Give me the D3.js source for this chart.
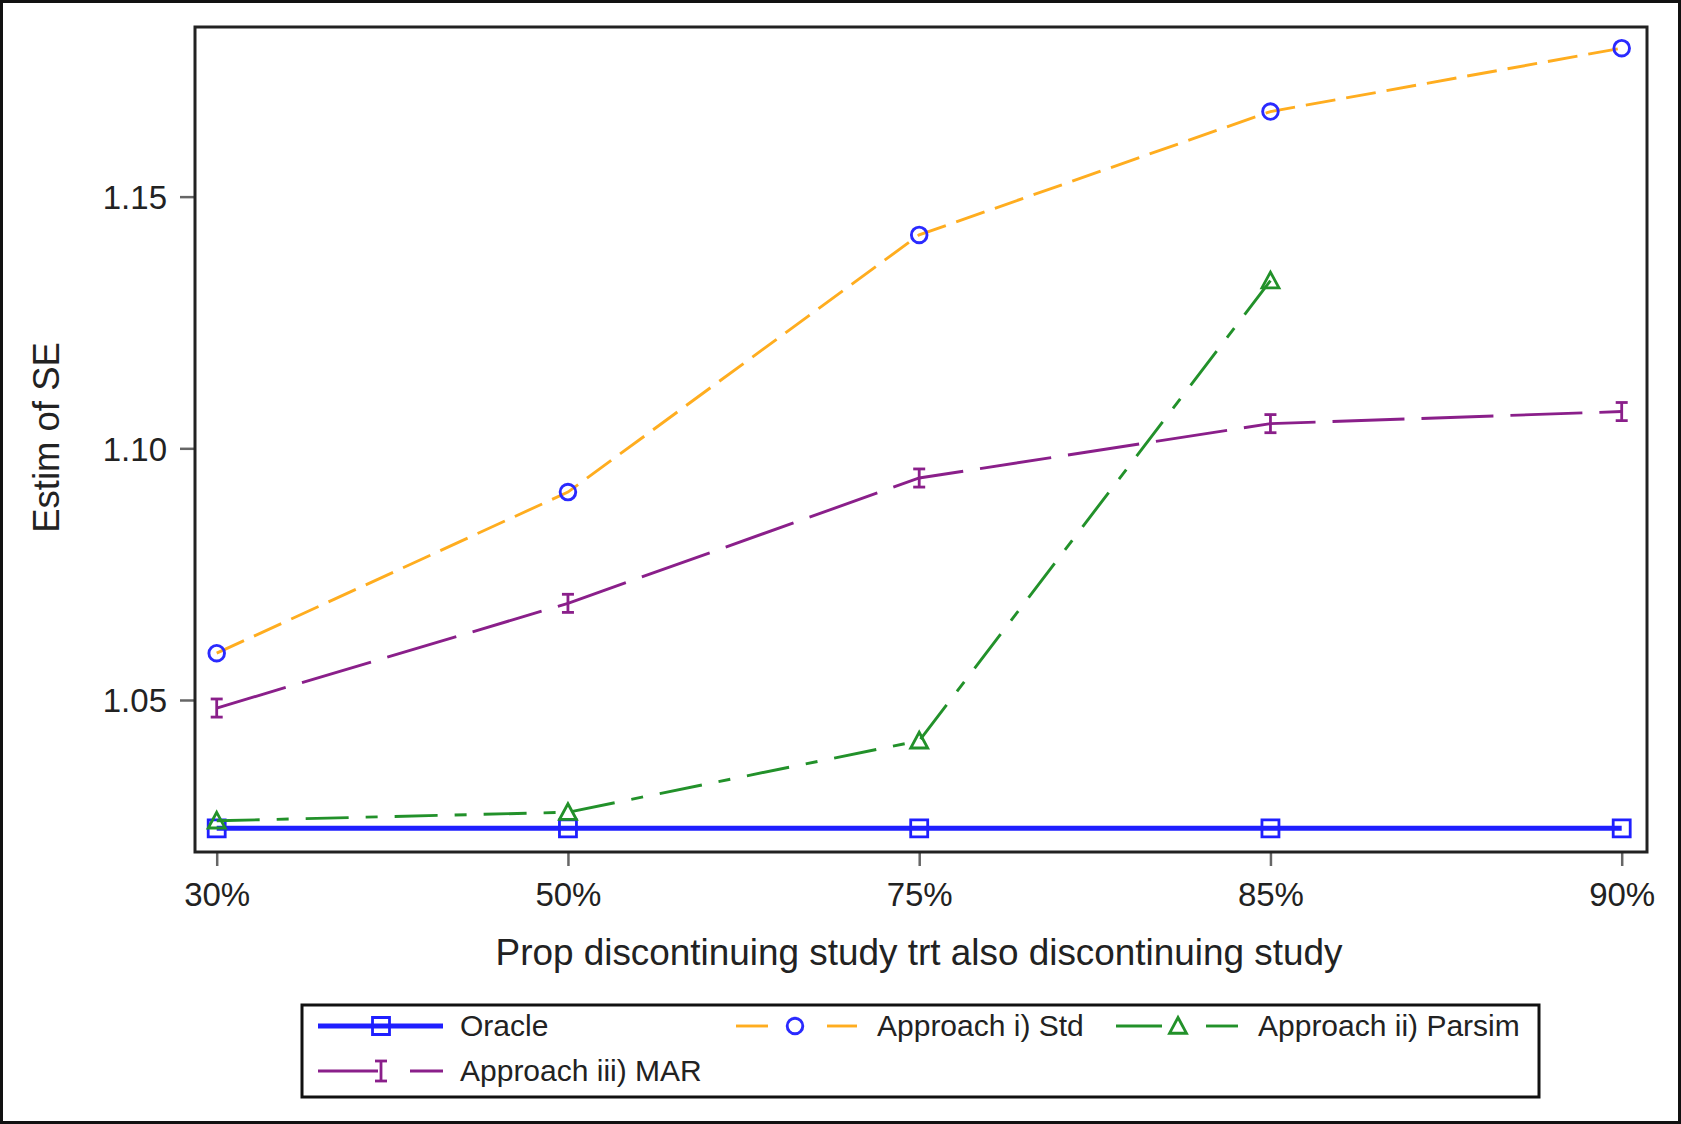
<!DOCTYPE html>
<html>
<head>
<meta charset="utf-8">
<script src="https://cdn.jsdelivr.net/npm/d3@7"></script>
<style>
  html, body { margin: 0; padding: 0; background: #fff; }
  svg { display: block; }
  text { font-family: "Liberation Sans", Arial, sans-serif; fill: #222; }
</style>
</head>
<body>
<svg id="chart" width="1681" height="1124"></svg>
<script>
// Categories on the x axis
const categories = ["30%", "50%", "75%", "85%", "90%"];

// Estimated SE for each approach (null = not estimated)
const oracle = [1.0245, 1.0245, 1.0245, 1.0245, 1.0245];
const approachStd = [1.0593, 1.0913, 1.1424, 1.1669, 1.1795];
const approachParsim = [1.0260, 1.0277, 1.0419, 1.1333, null];
const approachMar = [1.0484, 1.0692, 1.0941, 1.1049, 1.1073];
const approachMarLower = [1.0466, 1.0674, 1.0923, 1.1031, 1.1055];
const approachMarUpper = [1.0502, 1.0710, 1.0959, 1.1067, 1.1091];

const yTicks = [1.05, 1.10, 1.15];
const yDomain = [1.0198, 1.1837];

const xTitle = "Prop discontinuing study trt also discontinuing study";
const yTitle = "Estim of SE";
const legendLabels = ["Oracle", "Approach i) Std", "Approach ii) Parsim", "Approach iii) MAR"];

// Layout
const W = 1681, H = 1124;
const plot = { left: 195, top: 27, right: 1647, bottom: 852 };

const colors = {
  oracle: "#1f1fff",
  std: "#ffad1f",
  parsim: "#22912a",
  mar: "#8a1f8a",
  markerStd: "#2a2aff"
};

const svg = d3.select("#chart");

// Outer border
svg.append("rect")
  .attr("x", 1.5).attr("y", 1.5)
  .attr("width", W - 3).attr("height", H - 3)
  .attr("fill", "#fff").attr("stroke", "#111").attr("stroke-width", 3);

const x = d3.scalePoint().domain(categories).range([216.7, 1621.7]);
const y = d3.scaleLinear().domain(yDomain).range([plot.bottom, plot.top]);

// Y axis
const yAxis = svg.append("g")
  .attr("transform", `translate(${plot.left},0)`)
  .call(d3.axisLeft(y).tickValues(yTicks).tickFormat(d3.format(".2f")).tickSize(15).tickPadding(13));
yAxis.select(".domain").remove();
yAxis.selectAll(".tick line").attr("stroke", "#666").attr("stroke-width", 2.5);
yAxis.selectAll(".tick text")
  .attr("font-size", 33).attr("dy", "0.36em")
  .style("font-family", "'Liberation Sans', Arial, sans-serif").attr("fill", "#222");

// X axis
const xAxis = svg.append("g")
  .attr("transform", `translate(0,${plot.bottom})`)
  .call(d3.axisBottom(x).tickSize(14).tickPadding(17));
xAxis.select(".domain").remove();
xAxis.selectAll(".tick line").attr("stroke", "#666").attr("stroke-width", 2.5);
xAxis.selectAll(".tick text")
  .attr("font-size", 33)
  .style("font-family", "'Liberation Sans', Arial, sans-serif").attr("fill", "#222");

// Axis titles
svg.append("text")
  .attr("x", (plot.left + plot.right) / 2 - 2).attr("y", 965)
  .attr("text-anchor", "middle").attr("font-size", 36.9)
  .text(xTitle);

svg.append("text")
  .attr("transform", `translate(59,${(plot.top + plot.bottom) / 2 - 2}) rotate(-90)`)
  .attr("text-anchor", "middle").attr("font-size", 36.5)
  .text(yTitle);

// Plot frame
svg.append("rect")
  .attr("x", plot.left).attr("y", plot.top)
  .attr("width", plot.right - plot.left).attr("height", plot.bottom - plot.top)
  .attr("fill", "none").attr("stroke", "#222").attr("stroke-width", 3);

const line = d3.line()
  .defined(d => d.v != null)
  .x(d => x(d.c))
  .y(d => y(d.v));

const toPts = arr => categories.map((c, i) => ({ c, v: arr[i], i }));

// Marker shapes
function squarePath(s) { return `M${-s},${-s}H${s}V${s}H${-s}Z`; }
function trianglePath(s) { return `M0,${-s}L${s},${s * 0.85}L${-s},${s * 0.85}Z`; }

function drawErrorBar(g, cx, yLo, yHi, color) {
  const cap = 6;
  g.append("line").attr("x1", cx).attr("x2", cx).attr("y1", yLo).attr("y2", yHi)
    .attr("stroke", color).attr("stroke-width", 2.8);
  g.append("line").attr("x1", cx - cap).attr("x2", cx + cap).attr("y1", yLo).attr("y2", yLo)
    .attr("stroke", color).attr("stroke-width", 2.8);
  g.append("line").attr("x1", cx - cap).attr("x2", cx + cap).attr("y1", yHi).attr("y2", yHi)
    .attr("stroke", color).attr("stroke-width", 2.8);
}

// Oracle: solid blue with squares
const gOracle = svg.append("g");
gOracle.append("path").datum(toPts(oracle))
  .attr("d", line).attr("fill", "none")
  .attr("stroke", colors.oracle).attr("stroke-width", 5);
gOracle.selectAll("path.m").data(toPts(oracle).filter(d => d.v != null)).join("path")
  .attr("class", "m")
  .attr("transform", d => `translate(${x(d.c)},${y(d.v)})`)
  .attr("d", squarePath(8.5))
  .attr("fill", "none").attr("stroke", colors.oracle).attr("stroke-width", 2.8);

// Approach i) Std: orange dashes with blue circles
const gStd = svg.append("g");
gStd.append("path").datum(toPts(approachStd))
  .attr("d", line).attr("fill", "none")
  .attr("stroke", colors.std).attr("stroke-width", 2.9)
  .attr("stroke-dasharray", "30 11");
gStd.selectAll("circle").data(toPts(approachStd).filter(d => d.v != null)).join("circle")
  .attr("cx", d => x(d.c)).attr("cy", d => y(d.v)).attr("r", 7.8)
  .attr("fill", "none").attr("stroke", colors.markerStd).attr("stroke-width", 2.9);

// Approach ii) Parsim: green dash-dot with triangles
const gPar = svg.append("g");
gPar.append("path").datum(toPts(approachParsim))
  .attr("d", line).attr("fill", "none")
  .attr("stroke", colors.parsim).attr("stroke-width", 2.9)
  .attr("stroke-dasharray", "43 17 12 17");
gPar.selectAll("path.m").data(toPts(approachParsim).filter(d => d.v != null)).join("path")
  .attr("class", "m")
  .attr("transform", d => `translate(${x(d.c)},${y(d.v)})`)
  .attr("d", trianglePath(8.5))
  .attr("fill", "none").attr("stroke", colors.parsim).attr("stroke-width", 2.8);

// Approach iii) MAR: purple long dashes with error bars
const gMar = svg.append("g");
gMar.append("path").datum(toPts(approachMar))
  .attr("d", line).attr("fill", "none")
  .attr("stroke", colors.mar).attr("stroke-width", 2.9)
  .attr("stroke-dasharray", "72 17");
categories.forEach((c, i) => {
  if (approachMar[i] == null) return;
  drawErrorBar(gMar, x(c), y(approachMarLower[i]), y(approachMarUpper[i]), colors.mar);
});

// Legend
const lg = svg.append("g");
lg.append("rect")
  .attr("x", 302).attr("y", 1005).attr("width", 1237).attr("height", 92)
  .attr("fill", "#fff").attr("stroke", "#111").attr("stroke-width", 3);

const row1 = 1026, row2 = 1071;
// Oracle entry
lg.append("line").attr("x1", 318).attr("x2", 443).attr("y1", row1).attr("y2", row1)
  .attr("stroke", colors.oracle).attr("stroke-width", 5);
lg.append("path").attr("transform", `translate(381,${row1})`).attr("d", squarePath(8.5))
  .attr("fill", "none").attr("stroke", colors.oracle).attr("stroke-width", 2.8);
lg.append("text").attr("x", 460).attr("y", row1 + 10).attr("font-size", 30).text(legendLabels[0]);

// Std entry
[[736, 768], [827, 857]].forEach(([a, b]) =>
  lg.append("line").attr("x1", a).attr("x2", b).attr("y1", row1).attr("y2", row1)
    .attr("stroke", colors.std).attr("stroke-width", 2.9));
lg.append("circle").attr("cx", 795).attr("cy", row1).attr("r", 7.8)
  .attr("fill", "none").attr("stroke", colors.markerStd).attr("stroke-width", 2.9);
lg.append("text").attr("x", 877).attr("y", row1 + 10).attr("font-size", 30).text(legendLabels[1]);

// Parsim entry
[[1116, 1162], [1206, 1238]].forEach(([a, b]) =>
  lg.append("line").attr("x1", a).attr("x2", b).attr("y1", row1).attr("y2", row1)
    .attr("stroke", colors.parsim).attr("stroke-width", 2.9));
lg.append("path").attr("transform", `translate(1178,${row1})`).attr("d", trianglePath(8.5))
  .attr("fill", "none").attr("stroke", colors.parsim).attr("stroke-width", 2.8);
lg.append("text").attr("x", 1258).attr("y", row1 + 10).attr("font-size", 30).text(legendLabels[2]);

// MAR entry
[[318, 378], [410, 443]].forEach(([a, b]) =>
  lg.append("line").attr("x1", a).attr("x2", b).attr("y1", row2).attr("y2", row2)
    .attr("stroke", colors.mar).attr("stroke-width", 2.9));
drawErrorBar(lg, 381, row2 + 10, row2 - 10, colors.mar);
lg.append("text").attr("x", 460).attr("y", row2 + 10).attr("font-size", 30).text(legendLabels[3]);
</script>
</body>
</html>
